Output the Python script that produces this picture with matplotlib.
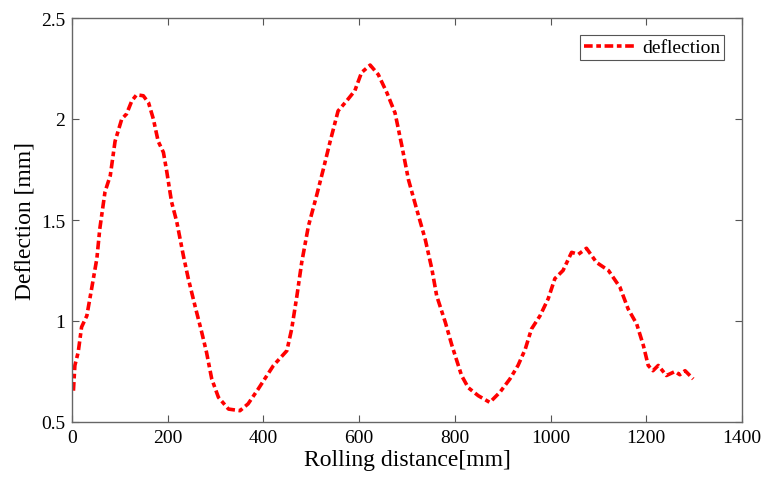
import numpy as np
import matplotlib
matplotlib.use("Agg")
import matplotlib.pyplot as plt

plt.rcParams['font.family'] = ['Liberation Serif', 'DejaVu Serif']

# rolling distance [mm] and deflection [mm]
distance = [3, 6, 13, 20, 31, 41, 52, 58, 69, 80, 90, 104, 114, 125, 135, 149,
            160, 170, 180, 191, 198, 208, 219, 233, 243, 257, 271, 281, 292, 306,
            327, 351, 368, 389, 421, 449, 459, 470, 480, 494, 511, 525, 539, 556,
            574, 591, 605, 623, 640, 658, 675, 689, 703, 720, 738, 752, 762, 780,
            794, 814, 828, 849, 873, 894, 915, 932, 947, 960, 978, 995, 1009,
            1026, 1044, 1058, 1075, 1096, 1121, 1145, 1162, 1180, 1194, 1204,
            1214, 1225, 1242, 1260, 1270, 1281, 1291, 1298]
deflection = [0.655, 0.78, 0.846, 0.97, 1.026, 1.16, 1.31, 1.455, 1.64, 1.72,
              1.89, 2.0, 2.025, 2.09, 2.12, 2.115, 2.08, 2.0, 1.89, 1.835, 1.74,
              1.59, 1.49, 1.32, 1.21, 1.075, 0.945, 0.846, 0.713, 0.622, 0.564,
              0.556, 0.59, 0.663, 0.78, 0.853, 0.96, 1.125, 1.29, 1.47, 1.62,
              1.75, 1.885, 2.04, 2.09, 2.14, 2.23, 2.267, 2.22, 2.13, 2.03, 1.87,
              1.70, 1.555, 1.405, 1.257, 1.125, 0.994, 0.878, 0.73, 0.67, 0.63,
              0.597, 0.647, 0.713, 0.78, 0.86, 0.96, 1.026, 1.11, 1.21, 1.25,
              1.34, 1.33, 1.36, 1.29, 1.25, 1.167, 1.06, 0.985, 0.878, 0.78,
              0.754, 0.78, 0.73, 0.75, 0.734, 0.754, 0.73, 0.713]

fig = plt.figure(figsize=(7.64, 4.85), dpi=100)
ax = fig.add_axes([72/764, 1 - 423/485, (742-72)/764, (423-19)/485])

ax.plot(distance, deflection, color='red', linewidth=2.6,
        dashes=(2.4, 1.0, 1.3, 1.0), label='deflection')

ax.set_xlim(0, 1400)
ax.set_ylim(0.5, 2.5)
ax.set_xticks(np.arange(0, 1401, 200))
ax.set_yticks([0.5, 1, 1.5, 2, 2.5])
ax.set_yticklabels(['0.5', '1', '1.5', '2', '2.5'])
ax.tick_params(direction='in', top=True, right=True, labelsize=14,
               length=5, width=0.8, color='#555555', pad=5)
for s in ax.spines.values():
    s.set_color('#666666')
    s.set_linewidth(1.0)

ax.set_xlabel('Rolling distance[mm]', fontsize=17, labelpad=2)
ax.set_ylabel('Deflection [mm]', fontsize=17, labelpad=4)

leg = ax.legend(loc='upper right', fontsize=14, fancybox=False,
                framealpha=1, borderpad=0.2, handlelength=2.6,
                handletextpad=0.4, borderaxespad=0,
                bbox_to_anchor=(0.973, 0.958))
leg.get_frame().set_edgecolor('#555555')
leg.get_frame().set_linewidth(0.8)

fig.savefig('out.png', dpi=100)
